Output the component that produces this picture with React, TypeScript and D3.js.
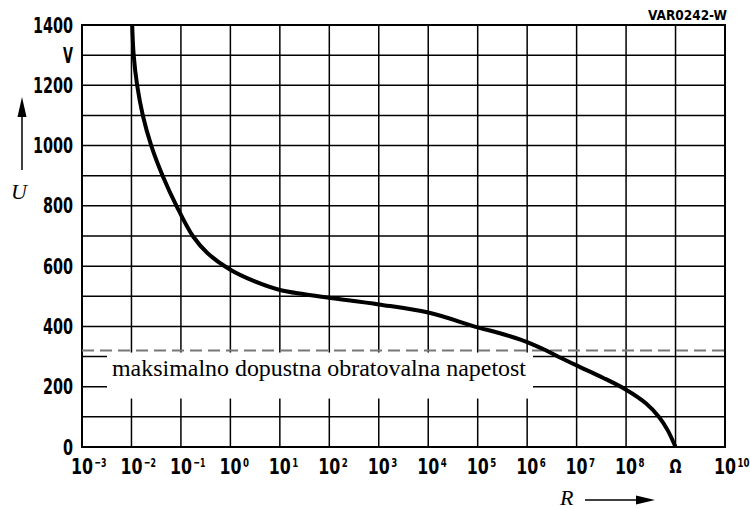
import { useMemo } from 'react';
import * as d3 from 'd3';

// U(R) characteristic, R on a log axis (exponent of 10), U in volts
const logR = [-1.985, -1.955, -1.885, -1.77, -1.6, -1.37, -1.09, -0.76, -0.46, 0, 0.47, 1, 1.5, 2, 3, 4, 5, 5.5, 6, 6.32, 6.65, 7.06, 7.53, 8, 8.4, 8.67, 8.84, 9];
const voltage = [1400, 1300, 1200, 1100, 1000, 900, 800, 700, 643, 588, 551, 521, 507, 495, 473, 446, 397, 375, 348, 325, 298, 266, 230, 190, 145, 99, 56, 0];

const xExponents = [-3, -2, -1, 0, 1, 2, 3, 4, 5, 6, 7, 8, 9, 10];
const xSup = ['\u22123', '\u22122', '\u22121', '0', '1', '2', '3', '4', '5', '6', '7', '8', '', '10'];
const yGrid = [0, 100, 200, 300, 400, 500, 600, 700, 800, 900, 1000, 1100, 1200, 1300, 1400];
const yLabels = [0, 200, 400, 600, 800, 1000, 1200, 1400];
const maxVoltage = 320;
const maxVoltageLabel = 'maksimalno dopustna obratovalna napetost';

const W = 750;
const H = 509;
const MARGIN = { top: 25, right: 25, bottom: 62, left: 82 };
const LABEL_FONT = "'DejaVu Sans Condensed', 'Liberation Sans', sans-serif";
const SERIF = "'Liberation Serif', 'Times New Roman', serif";

export default function App() {
    const x = useMemo(() => d3.scaleLinear().domain([-3, 10]).range([MARGIN.left, W - MARGIN.right]), []);
    const y = useMemo(() => d3.scaleLinear().domain([0, 1400]).range([H - MARGIN.bottom, MARGIN.top]), []);

    const line = d3
        .line<number>()
        .x((_, i) => x(logR[i]))
        .y((d) => y(d))
        .curve(d3.curveCatmullRom.alpha(0.5));

    const [x0, x1] = x.range();
    const [yb, yt] = y.range();

    return (
        <svg width={W} height={H} style={{ position: 'absolute', left: 0, top: 0, background: '#fff' }}>
            {/* grid */}
            <g stroke="#000" strokeWidth={1.5}>
                {xExponents.map((e) => (
                    <line key={'v' + e} x1={x(e)} x2={x(e)} y1={yt} y2={yb} />
                ))}
                {yGrid.map((v) => (
                    <line key={'h' + v} x1={x0} x2={x1} y1={y(v)} y2={y(v)} />
                ))}
            </g>
            <rect x={x0} y={yt} width={x1 - x0} height={yb - yt} fill="none" stroke="#000" strokeWidth={2} />

            {/* label box for the limit line */}
            <rect x={107} y={y(maxVoltage) + 2} width={426} height={46} fill="#fff" />
            <line x1={x0} x2={x1} y1={y(maxVoltage)} y2={y(maxVoltage)} stroke="#777" strokeWidth={2} strokeDasharray="12,6" />
            <text x={112} y={376} fontFamily={SERIF} fontSize={23} textLength={414} lengthAdjust="spacingAndGlyphs" fill="#000">
                {maxVoltageLabel}
            </text>

            <path d={line(voltage) || ''} fill="none" stroke="#000" strokeWidth={4} strokeLinejoin="round" />

            {/* y tick labels */}
            <g fontFamily={LABEL_FONT} fontWeight="bold" fontSize={21} textAnchor="end">
                {yLabels.map((v) => (
                    <text key={v} x={73} y={y(v)} dy="0.36em" textLength={String(v).length * 10} lengthAdjust="spacingAndGlyphs">
                        {v}
                    </text>
                ))}
                <text x={73} y={y(1300)} dy="0.36em" textLength={10} lengthAdjust="spacingAndGlyphs">
                    V
                </text>
            </g>

            {/* x tick labels */}
            <g fontFamily={LABEL_FONT} fontWeight="bold">
                {xExponents.map((e, i) =>
                    e === 9 ? (
                        <text key={e} x={x(e)} y={473} fontSize={20} textAnchor="middle" textLength={12} lengthAdjust="spacingAndGlyphs">
                            Ω
                        </text>
                    ) : (
                        <g key={e}>
                            <text x={x(e)} y={474} fontSize={22} textAnchor="middle" textLength={22} lengthAdjust="spacingAndGlyphs">
                                10
                            </text>
                            <text x={x(e) + 12.5} y={467} fontSize={13} textLength={xSup[i].length * 6} lengthAdjust="spacingAndGlyphs">
                                {xSup[i]}
                            </text>
                        </g>
                    )
                )}
            </g>

            <text x={727} y={20} fontFamily={LABEL_FONT} fontWeight="bold" fontSize={14} textAnchor="end" textLength={79} lengthAdjust="spacingAndGlyphs">
                VAR0242-W
            </text>

            {/* axis titles */}
            <line x1={22} x2={22} y1={170} y2={112} stroke="#000" strokeWidth={1.5} />
            <path d="M22,97 L17.5,117 L26.5,117 Z" fill="#000" />
            <text x={11} y={199} fontFamily={SERIF} fontStyle="italic" fontSize={22}>
                U
            </text>

            <text x={560} y={505} fontFamily={SERIF} fontStyle="italic" fontSize={22}>
                R
            </text>
            <line x1={585} x2={640} y1={500} y2={500} stroke="#000" strokeWidth={1.5} />
            <path d="M655,500 L636,495.5 L636,504.5 Z" fill="#000" />
        </svg>
    );
}
